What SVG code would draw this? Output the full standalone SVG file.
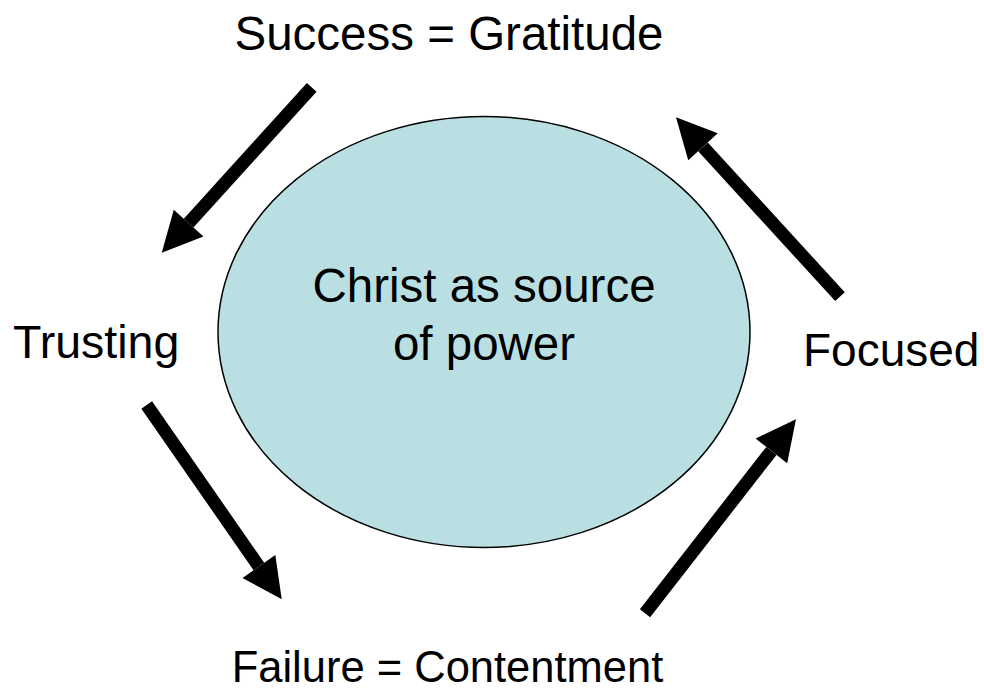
<svg xmlns="http://www.w3.org/2000/svg" width="984" height="689" viewBox="0 0 984 689">
<style>
text{font-family:"Liberation Sans",Arial,sans-serif;font-size:47.5px;fill:#000}
.c{stroke:#000;stroke-width:13;fill:none}
</style>
<defs>
<marker id="ah" markerUnits="userSpaceOnUse" markerWidth="42" markerHeight="42" refX="0" refY="20" viewBox="0 0 42 40" orient="auto" overflow="visible">
<path d="M0,0 L40,20 L0,40 z" fill="#000"/>
</marker>
</defs>
<rect width="984" height="689" fill="#fff"/>
<g id="center">
<ellipse cx="484" cy="332" rx="266" ry="215.5" fill="#b9dfe3" stroke="#000" stroke-width="1.5"/>
<text x="484" y="302" text-anchor="middle">Christ as source</text>
<text x="484" y="360" text-anchor="middle">of power</text>
</g>
<g id="success"><text x="449" y="50" text-anchor="middle">Success = Gratitude</text></g>
<g id="trusting"><text x="13" y="358" style="font-size:46.5px">Trusting</text></g>
<g id="focused"><text x="803" y="366" style="font-size:46px">Focused</text></g>
<g id="failure"><text x="447.5" y="682" text-anchor="middle" style="font-size:43.5px">Failure = Contentment</text></g>
<g id="connectors">
<line class="c" x1="311.7" y1="87.3" x2="188.6" y2="223.1" marker-end="url(#ah)"/>
<line class="c" x1="146.7" y1="405" x2="258.9" y2="566.5" marker-end="url(#ah)"/>
<line class="c" x1="645" y1="613.3" x2="771.4" y2="450.9" marker-end="url(#ah)"/>
<line class="c" x1="840" y1="296.7" x2="703" y2="146.8" marker-end="url(#ah)"/>
</g>
</svg>
